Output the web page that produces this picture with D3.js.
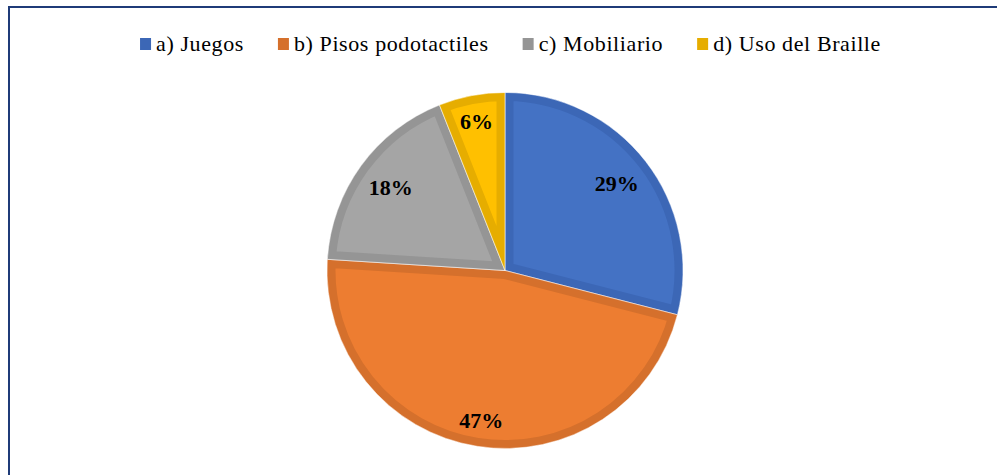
<!DOCTYPE html>
<html>
<head>
<meta charset="utf-8">
<script src="https://cdn.jsdelivr.net/npm/d3@7"></script>
<style>
    html, body { margin: 0; padding: 0; background: #fff; }
    svg { display: block; }
    text { font-family: 'Liberation Serif', 'Times New Roman', Tinos, Times, serif; }
</style>
</head>
<body>
<div id="chart"></div>
<script>
const categories = ['a) Juegos', 'b) Pisos podotactiles', 'c) Mobiliario', 'd) Uso del Braille'];
const percents = [29, 47, 18, 6];
const fillColors = ['#4472C4', '#ED7D31', '#A5A5A5', '#FFC000'];
const edgeColors = ['#3C67B6', '#D5702C', '#959595', '#E6AD00'];

document.addEventListener('DOMContentLoaded', () => {
    const width = 997;
    const height = 475;
    const cx = 505;
    const cy = 270.5;
    const radius = 178;

    const data = categories.map((name, i) => ({ name, value: percents[i], i }));

    const svg = d3.select('#chart')
        .append('svg')
        .attr('width', width)
        .attr('height', height);

    svg.append('rect')
        .attr('width', width)
        .attr('height', height)
        .attr('fill', '#fff');

    // frame, cut off on the right and bottom like the original
    svg.append('rect')
        .attr('x', 9)
        .attr('y', 7)
        .attr('width', 1200)
        .attr('height', 800)
        .attr('fill', 'none')
        .attr('stroke', '#1F3B78')
        .attr('stroke-width', 2);

    // legend
    const legend = svg.append('g').attr('class', 'legend');
    const items = legend.selectAll('.item')
        .data(data)
        .enter().append('g')
        .attr('class', 'item');

    items.append('rect')
        .attr('width', 11)
        .attr('height', 12)
        .attr('y', 38)
        .attr('fill', d => edgeColors[d.i]);

    items.append('text')
        .attr('x', 16)
        .attr('y', 51)
        .style('font-size', '22px')
        .style('letter-spacing', '0.6px')
        .attr('fill', '#000')
        .text(d => d.name);

    const gap = 34;
    const widths = [];
    items.each(function() {
        widths.push(16 + d3.select(this).select('text').node().getComputedTextLength());
    });
    const total = d3.sum(widths) + gap * (widths.length - 1);
    let xPos = 510.5 - total / 2;
    items.attr('transform', (d, i) => {
        const t = `translate(${xPos},0)`;
        xPos += widths[i] + gap;
        return t;
    });

    // pie
    const pie = d3.pie().value(d => d.value).sort(null);
    const arc = d3.arc().innerRadius(0).outerRadius(radius);
    const arcs = pie(data);

    const defs = svg.append('defs');
    defs.selectAll('clipPath')
        .data(arcs)
        .enter().append('clipPath')
        .attr('id', d => 'slice-clip-' + d.data.i)
        .append('path')
        .attr('d', arc);

    const pieGroup = svg.append('g')
        .attr('transform', `translate(${cx},${cy})`);

    const slices = pieGroup.selectAll('.slice')
        .data(arcs)
        .enter().append('g')
        .attr('class', 'slice');

    slices.append('path')
        .attr('d', arc)
        .attr('fill', d => fillColors[d.data.i])
        .attr('stroke', d => edgeColors[d.data.i])
        .attr('stroke-width', 17)
        .attr('clip-path', d => `url(#slice-clip-${d.data.i})`);

    slices.append('path')
        .attr('d', arc)
        .attr('fill', 'none')
        .attr('stroke', 'rgba(255,255,255,0.55)')
        .attr('stroke-width', 1);

    // labels, placed near the outer edge inside each slice
    const labels = pieGroup.selectAll('.label')
        .data(arcs)
        .enter().append('text')
        .attr('class', 'label')
        .attr('text-anchor', 'middle')
        .attr('dy', '0.35em')
        .style('font-size', '22px')
        .style('font-weight', 'bold')
        .attr('fill', '#000')
        .text(d => d.data.value + '%');

    const reach = radius - 14;
    labels.attr('transform', function(d) {
        const a = (d.startAngle + d.endAngle) / 2;
        const ux = Math.sin(a);
        const uy = -Math.cos(a);
        const w = this.getComputedTextLength();
        const h = 16;
        const c = [Math.sign(ux) * w / 2, Math.sign(uy) * h / 2];
        const uc = ux * c[0] + uy * c[1];
        const cc = c[0] * c[0] + c[1] * c[1];
        const dist = -uc + Math.sqrt(uc * uc - cc + reach * reach);
        return `translate(${dist * ux},${dist * uy})`;
    });
});
</script>
</body>
</html>
